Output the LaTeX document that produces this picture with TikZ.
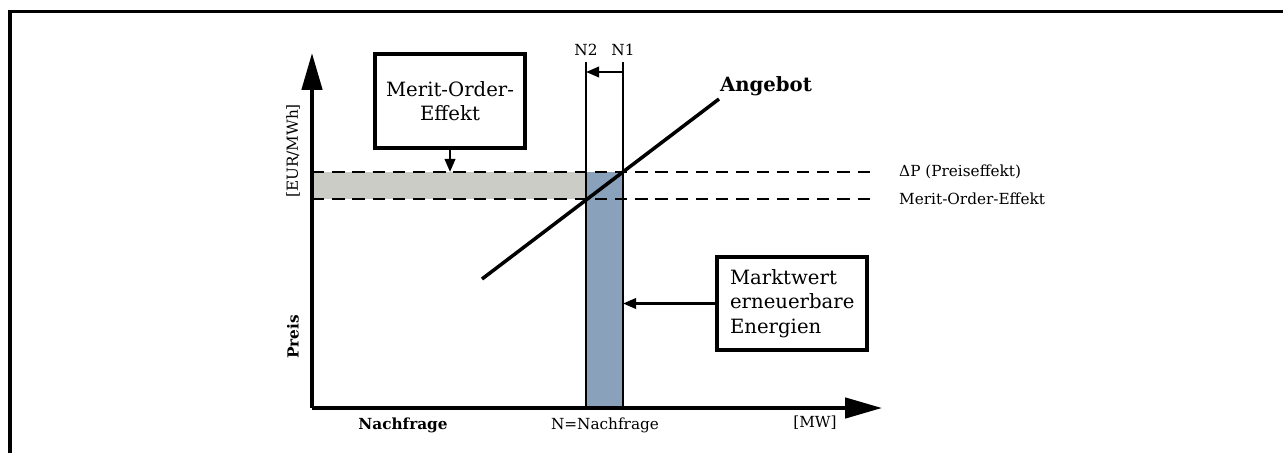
\documentclass[tikz,border=0pt]{standalone}
\usepackage{fontspec}
\setmainfont{DejaVu Serif}
\usetikzlibrary{arrows.meta,positioning}

\definecolor{moGrey}{RGB}{204,204,198}
\definecolor{mwBlue}{RGB}{138,161,187}

\begin{document}
\begin{tikzpicture}[x=0.02cm,y=-0.02cm,
  infobox/.style={draw, line width=2.1pt, align=center, font=\fontsize{11.2}{14}\selectfont},
  axistext/.style={font=\fontsize{8.7}{10}\selectfont},
  boldtext/.style={font=\bfseries\fontsize{8.7}{10}\selectfont},
  pointer/.style={line width=1.4pt, -{Triangle[length=7.5pt,width=6pt]}}]
  \useasboundingbox (0,0) rectangle (1283,453);

  % Frame (top and left edge)
  \draw[line width=2.2pt] (10,453) -- (10,11.5) -- (1283,11.5);

  % Origin and levels
  \coordinate (O) at (312,408);
  \def\pA{172}  % price with N1
  \def\pB{199}  % price with N2
  \coordinate (N1) at (623,408);
  \coordinate (N2) at (586,408);
  \coordinate (N1top) at (623,62);
  \coordinate (N2top) at (586,62);

  % Areas
  \fill[moGrey] (312,\pA) rectangle (586,\pB);
  \fill[mwBlue] (586,\pA) rectangle (N1);

  % Demand lines
  \draw[line width=1pt] (N1) -- (N1top);
  \draw[line width=1pt] (N2) -- (N2top);
  \node[axistext, above] (n1txt) at (N1top) {N1};
  \node[axistext, above] (n2txt) at (N2top) {N2};
  \draw[pointer] (623,72) -- (586,72);

  % Price levels
  \draw[line width=1.3pt, dash pattern=on 7pt off 4.5pt] (312,\pA) -- (874,\pA);
  \draw[line width=1.3pt, dash pattern=on 7pt off 4.5pt] (312,\pB) -- (874,\pB);
  \node[axistext, anchor=west] (dptxt) at (893,\pA) {ΔP (Preiseffekt)};
  \node[axistext, anchor=west] (motxt) at (893,\pB) {Merit-Order-Effekt};

  % Supply curve
  \coordinate (S1) at (482,279);
  \coordinate (S2) at (719,99);
  \draw[line width=2pt] (S1) -- (S2);
  \node[font=\bfseries\fontsize{11.2}{13}\selectfont] (angebot) at (766,86) {Angebot};

  % Axes
  \draw[line width=2.2pt, -{Triangle[length=21pt,width=11.5pt]}] (O) -- (312,53);
  \draw[line width=2.2pt, -{Triangle[length=21pt,width=11.5pt]}] (O) -- (882,408);

  % Axis texts
  \node[axistext, rotate=90] (unitP) at (293,151) {[EUR/MWh]};
  \node[boldtext, rotate=90] (preis) at (293,337) {Preis};
  \node[boldtext] (nachfrage) at (403,425) {Nachfrage};
  \node[axistext] (ntxt) at (605,425) {N=Nachfrage};
  \node[axistext] (mw) at (815,423) {[MW]};

  % Boxes
  \node[infobox, minimum width=3cm, minimum height=1.88cm] (meritbox) at (450,101)
    {Merit-Order-\\Effekt};
  \node[infobox, align=left, text width=2.48cm, inner xsep=0.26cm,
        minimum height=1.86cm] (marktbox) at (792,303.5)
    {Marktwert\\erneuerbare\\Energien};
  \draw[pointer] (meritbox.south) -- (450,\pA);
  \draw[pointer] (marktbox.west) -- (N1 |- marktbox.west);
\end{tikzpicture}
\end{document}
